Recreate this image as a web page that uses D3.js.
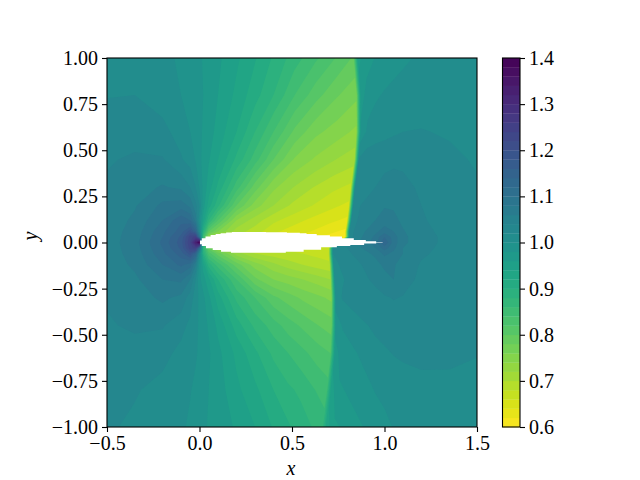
<!DOCTYPE html>
<html><head><meta charset="utf-8">
<script src="https://cdn.jsdelivr.net/npm/d3@7"></script>
<style>
html,body{margin:0;padding:0;background:#fff}
svg{display:block}
text{font-family:"Liberation Serif",serif;fill:#000}
</style></head><body>
<svg id="c" width="640" height="480"></svg>
<script>
const xTicks=[-0.5,0,0.5,1,1.5];
const yTicks=[-1,-0.75,-0.5,-0.25,0,0.25,0.5,0.75,1];
const cTicks=[0.6,0.7,0.8,0.9,1,1.1,1.2,1.3,1.4];
const levels=d3.range(0,41).map(i=>+(0.6+i*0.02).toFixed(2));
const yRows=[1,.8,.6,.45,.3,.2,.12,.06,.03,0,-.03,-.06,-.12,-.2,-.3,-.45,-.6,-.8,-1];
const shockX=[.845,.86,.86,.85,.83,.82,.81,.80,.80,.76,.71,.71,.715,.72,.725,.725,.72,.70,.675];
const xLeft=[-.5,-.35,-.2,-.1,-.05,-.02,0,.02,.05,.1,.2,.3,.4];
const xRight=[.95,1,1.05,1.1,1.2,1.35,1.5];
const field=[
[1.013,1.012,1.007,.996,.99,.985,.982,.979,.973,.964,.944,.922,.897,.87,.845,.82,.797,.955,.968,.981,.988,.993,.997,1.003,1.006,1.006],
[1.019,1.02,1.012,1.0,.995,.988,.984,.98,.972,.96,.935,.908,.88,.84,.808,.782,.765,.97,.99,.997,1.002,1.005,1.007,1.01,1.012,1.011],
[1.03,1.032,1.025,1.013,1.0,.99,.984,.978,.97,.952,.92,.88,.84,.795,.765,.75,.735,.985,1.005,1.01,1.013,1.017,1.02,1.021,1.018,1.015],
[1.038,1.043,1.042,1.022,1.012,.998,.985,.975,.962,.94,.895,.85,.80,.758,.737,.72,.708,1.022,1.03,1.033,1.036,1.037,1.036,1.031,1.024,1.018],
[1.043,1.052,1.062,1.056,1.04,1.02,.998,.975,.95,.915,.85,.79,.745,.72,.70,.685,.675,1.027,1.032,1.04,1.044,1.046,1.045,1.037,1.028,1.022],
[1.046,1.058,1.085,1.09,1.075,1.045,1.02,.97,.93,.885,.80,.75,.72,.695,.68,.665,.655,1.03,1.04,1.052,1.058,1.057,1.052,1.04,1.03,1.025],
[1.048,1.064,1.10,1.135,1.12,1.07,1.0,.95,.88,.82,.74,.71,.685,.67,.655,.645,.635,1.03,1.042,1.06,1.07,1.066,1.055,1.042,1.032,1.027],
[1.05,1.068,1.115,1.15,1.19,1.14,1.03,.90,.80,.76,.71,.69,.665,.65,.64,.625,.615,1.03,1.048,1.075,1.09,1.08,1.062,1.045,1.034,1.028],
[1.05,1.07,1.12,1.165,1.23,1.25,1.10,.85,.74,.70,.68,.665,.65,.64,.625,.615,.61,1.03,1.05,1.085,1.12,1.09,1.065,1.047,1.035,1.029],
[1.05,1.072,1.125,1.17,1.24,1.33,1.42,.95,.72,.70,.68,.67,.66,.65,.64,.63,.63,1.02,1.04,1.09,1.14,1.09,1.065,1.047,1.035,1.029],
[1.05,1.07,1.12,1.165,1.23,1.25,1.12,.88,.79,.73,.70,.69,.68,.675,.672,.668,.665,1.02,1.03,1.08,1.11,1.085,1.06,1.045,1.034,1.029],
[1.05,1.068,1.115,1.15,1.19,1.14,1.02,.90,.83,.79,.73,.70,.69,.685,.68,.675,.67,1.02,1.028,1.065,1.085,1.075,1.06,1.043,1.033,1.029],
[1.048,1.064,1.10,1.125,1.11,1.06,.99,.95,.89,.85,.79,.75,.725,.71,.70,.69,.685,1.015,1.022,1.052,1.065,1.062,1.052,1.038,1.03,1.029],
[1.045,1.056,1.08,1.085,1.06,1.02,.985,.97,.945,.90,.84,.785,.76,.75,.74,.73,.72,1.012,1.018,1.045,1.052,1.06,1.047,1.036,1.03,1.029],
[1.042,1.05,1.064,1.055,1.03,1.01,.995,.985,.965,.93,.875,.84,.805,.79,.775,.765,.755,1.01,1.022,1.032,1.038,1.041,1.039,1.034,1.03,1.027],
[1.038,1.043,1.042,1.027,1.015,1.005,.997,.99,.977,.955,.91,.875,.85,.83,.815,.80,.79,.99,1.002,1.025,1.028,1.03,1.032,1.032,1.029,1.024],
[1.032,1.033,1.027,1.014,1.007,1.002,.997,.992,.983,.966,.935,.905,.875,.86,.845,.83,.82,.97,.99,1.012,1.017,1.021,1.023,1.025,1.024,1.021],
[1.027,1.022,1.013,1.005,1.001,.996,.992,.988,.98,.97,.945,.925,.90,.885,.875,.86,.85,.95,.976,1.001,1.005,1.008,1.011,1.014,1.015,1.013],
[1.023,1.016,1.008,1.003,.997,.992,.988,.984,.978,.968,.958,.94,.918,.905,.892,.88,.87,.93,.955,.99,.995,1.001,1.004,1.006,1.007,1.006]
];
const foilUpperX=[0,.005,.02,.045,.075,.1,.128,.16,.19,.3,.42,.525,.56,.597,.67,.74,.8,.868,.93,.98,1];
const foilUpperY=[0,.011,.023,.033,.041,.046,.05,.054,.057,.057,.056,.053,.05,.046,.039,.032,.023,.014,.007,.002,0];
const foilLowerX=[1,.98,.93,.85,.78,.705,.61,.516,.417,.3,.2,.14,.093,.05,.02,.005,0];
const foilLowerY=[0,-.002,-.006,-.014,-.019,-.026,-.039,-.05,-.055,-.055,-.055,-.05,-.041,-.031,-.019,-.009,0];

const svg=d3.select("#c");
const L=107,R=477,T=58,B=427,CL=502.5,CR=520;
const x=d3.scaleLinear().domain([-.5,1.5]).range([L,R]);
const y=d3.scaleLinear().domain([-1,1]).range([B,T]);
const color=v=>d3.interpolateViridis(1-(v-0.6)/0.8);
const nC=xLeft.length+6+xRight.length,nR=yRows.length;
// Shock-fitted column positions for each row
const rowX=shockX.map(S=>[...xLeft,.4+.25*(S-.4),.4+.5*(S-.4),.4+.75*(S-.4),S-.012,S+.012,S+.05,...xRight]);
const rowScale=d3.scaleLinear().domain([0,nR-1]).range([0,nR-1]).clamp(true);
const yOfRow=d3.scaleLinear().domain(d3.range(nR)).range(yRows).clamp(true);
function mapPt(p){
  const ci=Math.max(0,Math.min(nC-1,p[0]-.5)),rj=rowScale(p[1]-.5);
  const c0=Math.min(nC-2,Math.floor(ci)),ct=ci-c0;
  const r0=Math.min(nR-2,Math.floor(rj)),rt=rj-r0;
  const xa=rowX[r0][c0]+(rowX[r0][c0+1]-rowX[r0][c0])*ct;
  const xb=rowX[r0+1][c0]+(rowX[r0+1][c0+1]-rowX[r0+1][c0])*ct;
  return [x(xa+(xb-xa)*rt),y(yOfRow(rj))];
}
const flat=field.flat();
const bands=d3.contours().size([nC,nR]).smooth(true).thresholds(levels.slice(0,-1))(flat);
const defs=svg.append("defs");
defs.append("clipPath").attr("id","ax").append("rect").attr("x",L).attr("y",T).attr("width",R-L).attr("height",B-T);
const path=d3.geoPath();
const g=svg.append("g").attr("clip-path","url(#ax)");
g.append("rect").attr("x",L).attr("y",T).attr("width",R-L).attr("height",B-T).attr("fill",color(.61));
g.selectAll("path.band").data(bands).join("path").attr("class","band")
 .attr("fill-rule","evenodd")
 .attr("fill",d=>color(d.value+.01))
 .attr("d",d=>path({type:"MultiPolygon",coordinates:d.coordinates.map(poly=>poly.map(ring=>ring.map(mapPt)))}));
const foil=[...foilUpperX.map((v,i)=>[v,foilUpperY[i]]),...foilLowerX.slice(1).map((v,i)=>[v,foilLowerY[i+1]])];
g.append("path").attr("fill","#fff")
 .attr("d",d3.line().x(d=>x(d[0])).y(d=>y(d[1])).curve(d3.curveStep)(foil)+"Z");

const fs=20;
function styleAxis(a,fmt){
  a.selectAll("text").attr("font-size",fs).text(fmt);
  a.selectAll("line").attr("stroke","#000").attr("stroke-width",1.1);
  a.select(".domain").remove();
}
const fm=d=>d3.format(".1f")(d).replace("-","\u2212"), fm2=d=>d3.format(".2f")(d).replace("-","\u2212");
styleAxis(svg.append("g").attr("transform",`translate(0,${B})`).call(d3.axisBottom(x).tickValues(xTicks).tickSize(5).tickPadding(4)),fm);
styleAxis(svg.append("g").attr("transform",`translate(${L},0)`).call(d3.axisLeft(y).tickValues(yTicks).tickSize(5).tickPadding(4)),fm2);
svg.append("rect").attr("x",L).attr("y",T).attr("width",R-L).attr("height",B-T).attr("fill","none").attr("stroke","#000").attr("stroke-width",1.1);
svg.append("text").attr("x",291).attr("y",475).attr("text-anchor","middle").attr("font-size",fs).attr("font-style","italic").text("x");
svg.append("text").attr("transform","translate(37,236) rotate(-90)").attr("text-anchor","middle").attr("font-size",fs).attr("font-style","italic").text("y");

// colorbar
const cy=d3.scaleLinear().domain([.6,1.4]).range([B,T]);
svg.append("g").selectAll("rect").data(levels.slice(0,-1)).join("rect")
 .attr("x",CL).attr("width",CR-CL).attr("y",d=>cy(d+.02)).attr("height",d=>cy(d)-cy(d+.02)+.3).attr("fill",d=>color(d+.01));
styleAxis(svg.append("g").attr("transform",`translate(${CR},0)`).call(d3.axisRight(cy).tickValues(cTicks).tickSize(5).tickPadding(4)),fm);
svg.append("rect").attr("x",CL).attr("y",T).attr("width",CR-CL).attr("height",B-T).attr("fill","none").attr("stroke","#000").attr("stroke-width",1.1);
</script></body></html>
